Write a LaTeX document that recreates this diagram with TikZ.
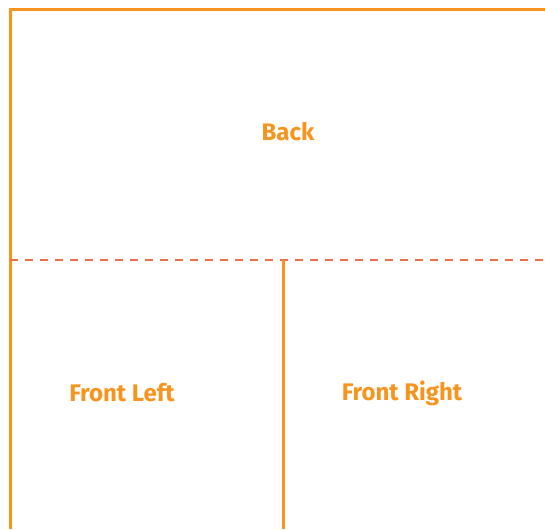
\documentclass[tikz,border=0pt]{standalone}
\usepackage{fontspec}
\setmainfont{Fira Sans}
\definecolor{edgeorange}{HTML}{F7941D}
\definecolor{foldred}{HTML}{EC6F4C}
\tikzset{
  panel/.style={draw=edgeorange, line width=3pt},
  fold/.style={draw=foldred, line width=2.2pt, dash pattern=on 8pt off 7pt},
  lbl/.style={text=edgeorange, font=\bfseries\fontsize{24}{28}\selectfont, inner sep=0pt}
}
\begin{document}
\begin{tikzpicture}[x=1pt,y=1pt]
\useasboundingbox (0,0) rectangle (545,529);
\coordinate (tl) at (10,519);
\coordinate (tr) at (545,519);
\coordinate (bl) at (10,0);
\coordinate (ml) at (10,269);
\coordinate (mr) at (545,269);
\coordinate (mc) at (283,269);
\coordinate (bc) at (283,0);
\draw[panel] (tr) -- (tl) -- (bl);
\draw[fold] (ml) -- (mr);
\draw[panel] (mc) -- (bc);
\node[lbl] (back) at (288,397) {Back};
\node[lbl] (fl) at (122,136) {Front Left};
\node[lbl] (fr) at (402,136) {Front Right};
\end{tikzpicture}
\end{document}
